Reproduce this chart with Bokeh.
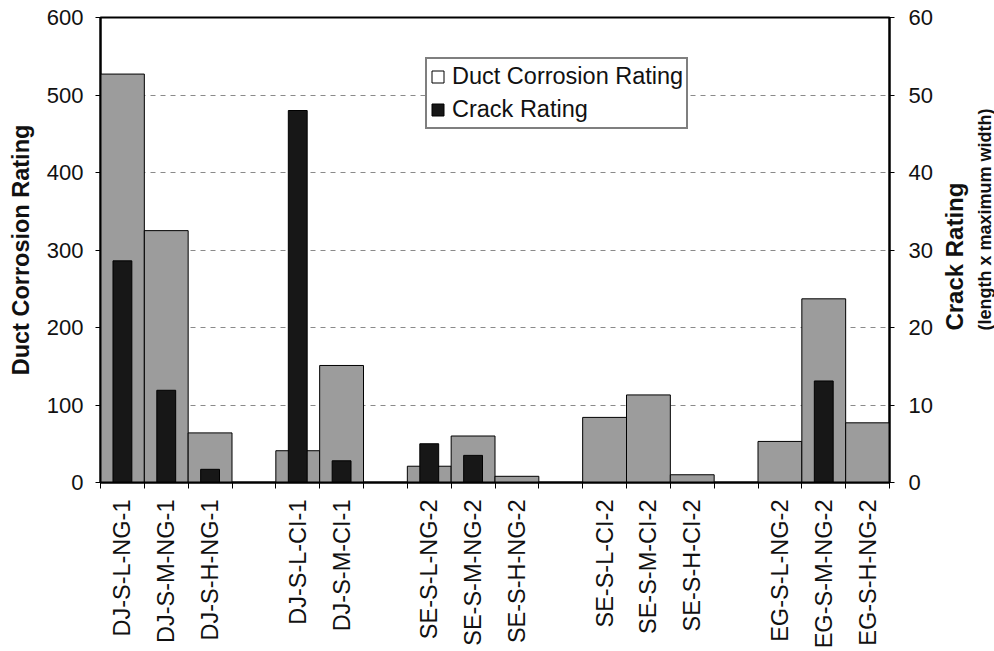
import numpy as np
from math import pi
from bokeh.plotting import figure
from bokeh.layouts import row
from bokeh.models import (ColumnDataSource, Range1d, LinearAxis, FixedTicker,
                          Legend, LegendItem, Label)
from bokeh.embed import file_html
from bokeh.resources import INLINE

# ---- data (blank categories are the gaps between specimen groups) ----
categories = ["DJ-S-L-NG-1", "DJ-S-M-NG-1", "DJ-S-H-NG-1", "",
              "DJ-S-L-CI-1", "DJ-S-M-CI-1", "",
              "SE-S-L-NG-2", "SE-S-M-NG-2", "SE-S-H-NG-2", "",
              "SE-S-L-CI-2", "SE-S-M-CI-2", "SE-S-H-CI-2", "",
              "EG-S-L-NG-2", "EG-S-M-NG-2", "EG-S-H-NG-2"]
duct_rating = [527, 325, 64, None,
               41, 151, None,
               21, 60, 8, None,
               84, 113, 10, None,
               53, 237, 77]
crack_rating = [28.6, 11.9, 1.7, None,
                48.0, 2.8, None,
                5.0, 3.5, 0, None,
                0, 0, 0, None,
                0, 13.1, 0]
left_ticks = [0, 100, 200, 300, 400, 500, 600]
right_ticks = [0, 10, 20, 30, 40, 50, 60]

FONT = "Liberation Sans"
TXT = "#111111"
TOTAL_W, TOTAL_H = 994, 651
SIDE_W = 59

idx = list(range(len(categories)))
src = ColumnDataSource(dict(
    x=idx,
    duct=np.array(duct_rating, dtype=float),
    crack=np.array(crack_rating, dtype=float),
))

p = figure(width=TOTAL_W - SIDE_W, height=TOTAL_H, output_backend="svg",
           toolbar_location=None,
           x_range=Range1d(-0.5, len(categories) - 0.5),
           y_range=Range1d(0, 600),
           min_border_left=100, min_border_right=46,
           min_border_top=17, min_border_bottom=169)
p.extra_y_ranges = {"crack": Range1d(0, 60)}
p.background_fill_color = "white"
p.border_fill_color = "white"
p.outline_line_color = "black"
p.outline_line_width = 2

# bars
duct_r = p.vbar(x="x", top="duct", width=1.0, source=src,
                fill_color="#9c9c9c", line_color="black", line_width=1)
crack_r = p.vbar(x="x", top="crack", width=0.43, source=src, y_range_name="crack",
                 fill_color="#171717", line_color="black", line_width=1)

# grid
p.xgrid.visible = False
p.ygrid.ticker = FixedTicker(ticks=left_ticks[1:-1])
p.ygrid.grid_line_color = "#8a8a8a"
p.ygrid.grid_line_dash = "5 5"
p.ygrid.grid_line_width = 1

# x axis: labels at slot centres, tick marks at slot boundaries
xa = p.xaxis[0]
xa.ticker = FixedTicker(ticks=idx, minor_ticks=[i - 0.5 for i in range(len(categories) + 1)])
xa.major_label_overrides = {i: c for i, c in zip(idx, categories)}
xa.major_label_orientation = pi / 2
xa.major_tick_out = 0
xa.major_tick_in = 0
xa.minor_tick_out = 6
xa.minor_tick_in = 0
xa.minor_tick_line_color = "black"
xa.minor_tick_line_width = 1
xa.major_label_standoff = 11
xa.axis_line_color = "black"
xa.axis_line_width = 2
xa.major_label_text_font = FONT
xa.major_label_text_font_size = "23.5px"
xa.major_label_text_color = TXT

# left axis
ya = p.yaxis[0]
ya.ticker = FixedTicker(ticks=left_ticks)
ya.axis_label = "Duct Corrosion Rating"
ya.axis_label_text_font = FONT
ya.axis_label_text_font_style = "bold"
ya.axis_label_text_font_size = "23.5px"
ya.axis_label_text_color = TXT
ya.axis_label_standoff = 10
ya.major_label_text_font = FONT
ya.major_label_text_font_size = "22px"
ya.major_label_text_color = TXT
ya.major_label_standoff = 12
ya.major_tick_out = 5
ya.major_tick_in = 0
ya.minor_tick_line_color = None
ya.axis_line_color = "black"
ya.axis_line_width = 2

# right axis (crack rating scale)
ra = LinearAxis(y_range_name="crack", ticker=FixedTicker(ticks=right_ticks))
ra.major_label_text_font = FONT
ra.major_label_text_font_size = "22px"
ra.major_label_text_color = TXT
ra.major_label_standoff = 14
ra.major_tick_out = 5
ra.major_tick_in = 0
ra.minor_tick_line_color = None
ra.axis_line_color = "black"
ra.axis_line_width = 2
p.add_layout(ra, "right")

# legend (duct shown as an open square, as in the original)
nan1 = np.array([np.nan])
leg_duct = p.vbar(x=nan1, top=nan1, width=1.0, fill_color="white", line_color="black")
leg_crack = p.vbar(x=nan1, top=nan1, width=1.0, fill_color="#171717", line_color="black")
legend = Legend(items=[LegendItem(label="Duct Corrosion Rating", renderers=[leg_duct]),
                       LegendItem(label="Crack Rating", renderers=[leg_crack])],
                location=(325, 353))
legend.label_text_font = FONT
legend.label_text_font_size = "23.5px"
legend.label_text_color = TXT
legend.glyph_width = 15
legend.glyph_height = 15
legend.label_height = 29
legend.label_standoff = 7
legend.spacing = 4
legend.padding = 3
legend.margin = 0
legend.border_line_color = "black"
legend.border_line_width = 2
legend.background_fill_color = "white"
legend.background_fill_alpha = 1.0
p.add_layout(legend, "center")

# narrow side panel carrying the right-hand axis title (reads bottom to top);
# its frame is aligned with the main plot's frame, so it shares the y range
side = figure(width=SIDE_W, height=TOTAL_H, output_backend="svg",
              toolbar_location=None, x_axis_type=None, y_axis_type=None,
              x_range=Range1d(0, SIDE_W), y_range=p.y_range,
              min_border_left=0, min_border_right=0,
              min_border_top=17, min_border_bottom=169)
side.outline_line_color = None
side.background_fill_color = "white"
side.border_fill_color = "white"
side.xgrid.visible = False
side.ygrid.visible = False
title_start = 196   # left-axis units where both title lines begin
side.add_layout(Label(x=19, y=title_start, text="Crack Rating", angle=pi / 2,
                      text_align="left", text_baseline="middle",
                      text_font=FONT, text_font_style="bold",
                      text_font_size="24px", text_color=TXT))
side.add_layout(Label(x=49, y=title_start, text="(length x maximum width)", angle=pi / 2,
                      text_align="left", text_baseline="middle",
                      text_font=FONT, text_font_style="bold",
                      text_font_size="18px", text_color=TXT))

open("out.html", "w").write(file_html(row(p, side), INLINE))
